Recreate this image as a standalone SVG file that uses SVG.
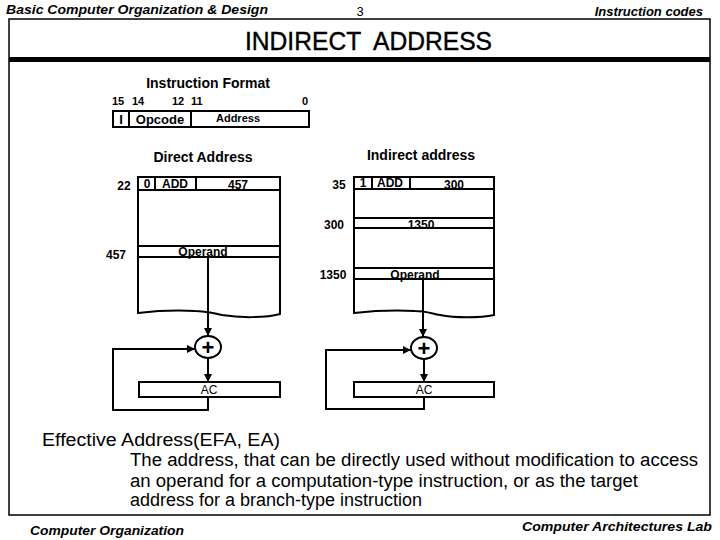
<svg xmlns="http://www.w3.org/2000/svg" width="720" height="540" viewBox="0 0 720 540">
<style>
.hdr{font-family:"Liberation Sans",Arial,sans-serif;font-weight:bold;font-style:italic;font-size:13px;fill:#000}
.t{font-family:"Liberation Sans",Arial,sans-serif;fill:#000}
.b{font-family:"Liberation Sans",Arial,sans-serif;font-weight:bold;fill:#000}
.ln{fill:none;stroke:#000;stroke-width:2}
.bx{fill:#fff;stroke:#000;stroke-width:2}
</style>
<defs>
<marker id="ah" viewBox="0 0 10 10" refX="10" refY="5" markerWidth="4" markerHeight="4" orient="auto" markerUnits="strokeWidth">
<path d="M0,0 L10,5 L0,10 z" fill="#000"/>
</marker>
</defs>
<rect width="720" height="540" fill="#fff"/>
<g id="header">
<text class="hdr" x="6" y="14" textLength="262" lengthAdjust="spacingAndGlyphs">Basic Computer Organization &amp; Design</text>
<text class="t" x="360" y="16" font-size="13" text-anchor="middle">3</text>
<text class="hdr" x="703" y="16" text-anchor="end">Instruction codes</text>
</g>
<g id="frame">
<rect x="9" y="19" width="701" height="496" fill="none" stroke="#000" stroke-width="1.5"/>
<rect x="9" y="57" width="701" height="5" fill="#000"/>
<text class="t" x="245" y="50" font-size="25" textLength="247" lengthAdjust="spacingAndGlyphs" stroke="#000" stroke-width="0.4" style="white-space:pre">INDIRECT  ADDRESS</text>
</g>
<g id="instruction-format">
<text class="b" x="208" y="88" font-size="14" text-anchor="middle">Instruction Format</text>
<text class="b" x="112" y="105" font-size="11">15</text>
<text class="b" x="132" y="105" font-size="11">14</text>
<text class="b" x="172" y="105" font-size="11">12</text>
<text class="b" x="191" y="105" font-size="11">11</text>
<text class="b" x="302" y="105" font-size="11">0</text>
<rect class="bx" x="113" y="111" width="196" height="16"/>
<line class="ln" x1="129" y1="111" x2="129" y2="127"/>
<line class="ln" x1="191" y1="111" x2="191" y2="127"/>
<text class="b" x="121" y="124" font-size="13" text-anchor="middle">I</text>
<text class="b" x="160" y="124" font-size="13" text-anchor="middle">Opcode</text>
<text class="b" x="238" y="122" font-size="11" text-anchor="middle">Address</text>
</g>
<g id="direct-memory">
<text class="b" x="203" y="162" font-size="14" text-anchor="middle">Direct Address</text>
<path class="ln" d="M138,177 H280 V314 C265,318 240,318 222,315 C212,313 205,311 195,311 C175,310 155,311 138,313 Z" fill="#fff"/>
<line class="ln" x1="138" y1="190" x2="280" y2="190"/>
<line class="ln" x1="155" y1="177" x2="155" y2="190"/>
<line class="ln" x1="196" y1="177" x2="196" y2="190"/>
<text class="b" x="147" y="188" font-size="12" text-anchor="middle">0</text>
<text class="b" x="175" y="188" font-size="12" text-anchor="middle">ADD</text>
<text class="b" x="238" y="189" font-size="12" text-anchor="middle">457</text>
<text class="b" x="124" y="190" font-size="12" text-anchor="middle">22</text>
<line class="ln" x1="138" y1="246" x2="280" y2="246"/>
<line class="ln" x1="138" y1="257" x2="280" y2="257"/>
<text class="b" x="203" y="256" font-size="12" text-anchor="middle">Operand</text>
<text class="b" x="116" y="259" font-size="12" text-anchor="middle">457</text>
</g>
<g id="direct-adder">
<ellipse class="bx" cx="208" cy="347" rx="13" ry="11"/>
<text class="b" x="208" y="355" font-size="22" text-anchor="middle">+</text>
</g>
<g id="direct-ac">
<rect class="bx" x="139" y="382" width="141" height="15"/>
<text class="t" x="209" y="394" font-size="12" text-anchor="middle">AC</text>
</g>
<g id="indirect-memory">
<text class="b" x="421" y="160" font-size="14" text-anchor="middle">Indirect address</text>
<path class="ln" d="M354,177 H494 V315 C480,318 455,318 440,315 C430,313 425,311 415,311 C395,310 372,311 354,313 Z" fill="#fff"/>
<line class="ln" x1="354" y1="189" x2="494" y2="189"/>
<line class="ln" x1="372" y1="177" x2="372" y2="189"/>
<line class="ln" x1="410" y1="177" x2="410" y2="189"/>
<text class="b" x="363" y="187" font-size="12" text-anchor="middle">1</text>
<text class="b" x="390" y="187" font-size="12" text-anchor="middle">ADD</text>
<text class="b" x="454" y="189" font-size="12" text-anchor="middle">300</text>
<text class="b" x="339" y="189" font-size="12" text-anchor="middle">35</text>
<line class="ln" x1="354" y1="218" x2="494" y2="218"/>
<line class="ln" x1="354" y1="228" x2="494" y2="228"/>
<text class="b" x="421" y="229" font-size="12" text-anchor="middle">1350</text>
<text class="b" x="334" y="229" font-size="12" text-anchor="middle">300</text>
<line class="ln" x1="354" y1="268" x2="494" y2="268"/>
<line class="ln" x1="354" y1="279" x2="494" y2="279"/>
<text class="b" x="415" y="279" font-size="12" text-anchor="middle">Operand</text>
<text class="b" x="333" y="279" font-size="12" text-anchor="middle">1350</text>
</g>
<g id="indirect-adder">
<ellipse class="bx" cx="424" cy="348" rx="13" ry="11"/>
<text class="b" x="424" y="356" font-size="22" text-anchor="middle">+</text>
</g>
<g id="indirect-ac">
<rect class="bx" x="354" y="382" width="140" height="15"/>
<text class="t" x="424" y="394" font-size="12" text-anchor="middle">AC</text>
</g>
<g id="connectors">
<line class="ln" x1="208" y1="257" x2="208" y2="336" marker-end="url(#ah)"/>
<line class="ln" x1="208" y1="358" x2="208" y2="382" marker-end="url(#ah)"/>
<polyline class="ln" points="208,397 208,410 113,410 113,349 195,349" marker-end="url(#ah)"/>
<line class="ln" x1="423" y1="279" x2="423" y2="337" marker-end="url(#ah)"/>
<line class="ln" x1="424" y1="359" x2="424" y2="382" marker-end="url(#ah)"/>
<polyline class="ln" points="424,397 424,409 326,409 326,350 411,350" marker-end="url(#ah)"/>
</g>
<g id="definition">
<text class="t" x="42" y="446" font-size="18" textLength="238" lengthAdjust="spacingAndGlyphs">Effective Address(EFA, EA)</text>
<text class="t" x="130" y="466" font-size="18" textLength="568" lengthAdjust="spacingAndGlyphs">The address, that can be directly used without modification to access</text>
<text class="t" x="130" y="487" font-size="18" textLength="508" lengthAdjust="spacingAndGlyphs">an operand for a computation-type instruction, or as the target</text>
<text class="t" x="130" y="506" font-size="18" textLength="292" lengthAdjust="spacingAndGlyphs">address for a branch-type instruction</text>
</g>
<g id="footer">
<text class="hdr" x="30" y="535" textLength="154" lengthAdjust="spacingAndGlyphs">Computer Organization</text>
<text class="hdr" x="712" y="531" text-anchor="end" textLength="190" lengthAdjust="spacingAndGlyphs">Computer Architectures Lab</text>
</g>
</svg>
